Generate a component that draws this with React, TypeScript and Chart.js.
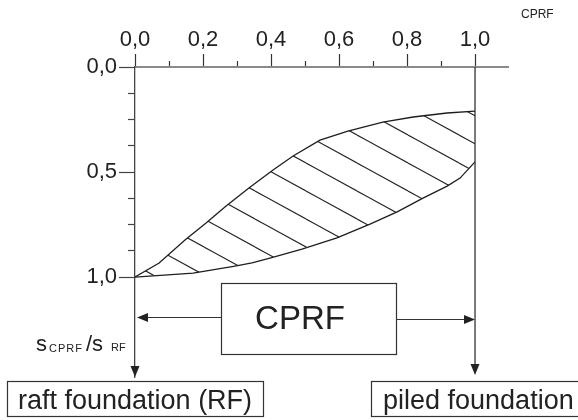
import { useEffect, useRef } from 'react';
import { Chart, registerables } from 'chart.js';

Chart.register(...registerables);

// Upper boundary of the CPRF band (s_CPRF/s_RF vs. alpha_CPRF)
const upperX = [0, 0.071, 0.147, 0.209, 0.268, 0.335, 0.406, 0.465, 0.544, 0.626, 0.729, 0.818, 0.918, 1.0];
const upperY = [1.0, 0.933, 0.824, 0.743, 0.662, 0.576, 0.49, 0.424, 0.348, 0.305, 0.262, 0.238, 0.219, 0.21];
// Lower boundary of the CPRF band
const lowerX = [0, 0.171, 0.294, 0.344, 0.397, 0.491, 0.594, 0.691, 0.771, 0.847, 0.918, 0.956, 1.0];
const lowerY = [1.0, 0.981, 0.948, 0.933, 0.91, 0.867, 0.814, 0.748, 0.69, 0.624, 0.567, 0.529, 0.452];

const xTickValues = [0, 0.1, 0.2, 0.3, 0.4, 0.5, 0.6, 0.7, 0.8, 0.9, 1.0];
const xLabelValues = [0, 0.2, 0.4, 0.6, 0.8, 1.0];
const xLabelTexts = ['0,0', '0,2', '0,4', '0,6', '0,8', '1,0'];
const yTickValues = [0, 0.125, 0.25, 0.375, 0.5, 0.625, 0.75, 0.875, 1.0];
const yLabelValues = [0, 0.5, 1.0];
const yLabelTexts = ['0,0', '0,5', '1,0'];

const FONT = '"Liberation Sans", Arial, Helvetica, sans-serif';

function labelOf(v: number, vals: number[], texts: string[]) {
  const i = vals.findIndex((a) => Math.abs(a - v) < 1e-6);
  return i >= 0 ? texts[i] : '';
}
function isMajor(v: number, vals: number[]) {
  return vals.some((a) => Math.abs(a - v) < 1e-6);
}

function makeHatch(): CanvasPattern | string {
  const W = 51;
  const H = 28;
  const c = document.createElement('canvas');
  c.width = W;
  c.height = H;
  const g = c.getContext('2d');
  if (!g) return 'rgba(0,0,0,0)';
  g.strokeStyle = '#222';
  g.lineWidth = 1.1;
  const phase = 23;
  for (let k = -2; k <= 2; k++) {
    g.beginPath();
    g.moveTo(0, phase + H * k);
    g.lineTo(W, phase + H + H * k);
    g.stroke();
  }
  const p = g.createPattern(c, 'repeat');
  return p || 'rgba(0,0,0,0)';
}

function arrowHead(ctx: CanvasRenderingContext2D, tx: number, ty: number, dir: 'left' | 'right' | 'down') {
  const L = 11;
  const Wd = 4.5;
  ctx.beginPath();
  if (dir === 'left') {
    ctx.moveTo(tx, ty);
    ctx.lineTo(tx + L, ty - Wd);
    ctx.lineTo(tx + L, ty + Wd);
  } else if (dir === 'right') {
    ctx.moveTo(tx, ty);
    ctx.lineTo(tx - L, ty - Wd);
    ctx.lineTo(tx - L, ty + Wd);
  } else {
    ctx.moveTo(tx, ty);
    ctx.lineTo(tx - Wd, ty - L);
    ctx.lineTo(tx + Wd, ty - L);
  }
  ctx.closePath();
  ctx.fill();
}

const decorPlugin = {
  id: 'decor',
  afterDraw(chart: any) {
    const ctx: CanvasRenderingContext2D = chart.ctx;
    const xs = chart.scales.x;
    const area = chart.chartArea;
    const x0 = xs.getPixelForValue(0);
    const x1 = xs.getPixelForValue(1);
    ctx.save();
    ctx.strokeStyle = '#333';
    ctx.fillStyle = '#222';
    ctx.lineWidth = 1.3;

    // right vertical line at alpha = 1
    ctx.beginPath();
    ctx.moveTo(x1, area.top);
    ctx.lineTo(x1, area.bottom - 8);
    ctx.stroke();
    arrowHead(ctx, x1, area.bottom - 2, 'down');
    // arrow head at end of the y axis
    arrowHead(ctx, x0, area.bottom, 'down');

    // CPRF box
    ctx.lineWidth = 1.2;
    ctx.strokeRect(221.5, 283.5, 175, 71);
    ctx.font = `33px ${FONT}`;
    ctx.textAlign = 'center';
    ctx.textBaseline = 'alphabetic';
    ctx.fillText('CPRF', 300, 329);

    // arrows out of the box
    ctx.beginPath();
    ctx.moveTo(221, 317.5);
    ctx.lineTo(x0 + 10, 317.5);
    ctx.stroke();
    arrowHead(ctx, x0 + 2, 317.5, 'left');
    ctx.beginPath();
    ctx.moveTo(396, 319.5);
    ctx.lineTo(x1 - 10, 319.5);
    ctx.stroke();
    arrowHead(ctx, x1, 319.5, 'right');

    // bottom boxes
    ctx.strokeRect(7.5, 381.5, 256, 35);
    ctx.strokeRect(371.5, 381.5, 260, 35);
    ctx.font = `27px ${FONT}`;
    ctx.textAlign = 'left';
    ctx.fillText('raft foundation (RF)', 18, 409);
    ctx.fillText('piled foundation', 383, 409);

    // y axis title s_CPRF / s_RF
    ctx.font = `22px ${FONT}`;
    ctx.fillText('s', 36, 351);
    ctx.fillText('/s', 86, 351);
    ctx.font = `11px ${FONT}`;
    (ctx as any).letterSpacing = '1px';
    ctx.fillText('CPRF', 49, 352);
    (ctx as any).letterSpacing = '0px';
    ctx.fillText('RF', 111, 351);

    // x axis title (alpha) CPRF
    ctx.font = `12px ${FONT}`;
    ctx.fillText('CPRF', 521, 18);
    ctx.restore();
  },
};

export default function App() {
  const ref = useRef<HTMLCanvasElement | null>(null);
  useEffect(() => {
    if (!ref.current) return;
    const hatch = makeHatch();
    const chart = new Chart(ref.current, {
      type: 'line',
      data: {
        datasets: [
          {
            data: upperX.map((x, i) => ({ x, y: upperY[i] })),
            borderColor: '#1e1e1e',
            borderWidth: 1.3,
            pointRadius: 0,
            tension: 0,
            fill: '+1',
            backgroundColor: hatch as any,
          },
          {
            data: lowerX.map((x, i) => ({ x, y: lowerY[i] })),
            borderColor: '#1e1e1e',
            borderWidth: 1.3,
            pointRadius: 0,
            tension: 0,
            fill: false,
          },
        ],
      },
      options: {
        animation: false,
        responsive: false,
        events: [],
        layout: { padding: { left: 0, top: 0, right: 70, bottom: 43 } },
        plugins: { legend: { display: false }, tooltip: { enabled: false } },
        scales: {
          x: {
            type: 'linear',
            position: 'top',
            min: 0,
            max: 1.097,
            afterBuildTicks: (s: any) => {
              s.ticks = xTickValues.map((v) => ({ value: v }));
            },
            afterFit: (s: any) => {
              s.height = 67;
            },
            ticks: {
              autoSkip: false,
              maxRotation: 0,
              padding: 1,
              color: '#222',
              font: { family: FONT, size: 22 },
              callback: (v: any) => labelOf(Number(v), xLabelValues, xLabelTexts),
            },
            grid: {
              drawOnChartArea: false,
              drawTicks: true,
              tickLength: 13,
              tickColor: '#333',
              tickWidth: 1.2,
              tickBorderDash: (c: any) => (isMajor(c.tick?.value, xLabelValues) ? [] : [6, 7]),
              tickBorderDashOffset: (c: any) => (isMajor(c.tick?.value, xLabelValues) ? 0 : 6),
            },
            border: { color: '#8a8a8a', width: 2 },
          },
          y: {
            type: 'linear',
            position: 'left',
            reverse: true,
            min: 0,
            max: 1.476,
            afterBuildTicks: (s: any) => {
              s.ticks = yTickValues.map((v) => ({ value: v }));
            },
            afterFit: (s: any) => {
              s.width = 135;
            },
            ticks: {
              autoSkip: false,
              padding: 2,
              color: '#222',
              font: { family: FONT, size: 22 },
              callback: (v: any) => labelOf(Number(v), yLabelValues, yLabelTexts),
            },
            grid: {
              drawOnChartArea: false,
              drawTicks: true,
              tickLength: 16,
              tickColor: '#444',
              tickWidth: 1.2,
              tickBorderDash: (c: any) => (isMajor(c.tick?.value, yLabelValues) ? [] : [7, 9]),
              tickBorderDashOffset: (c: any) => (isMajor(c.tick?.value, yLabelValues) ? 0 : 7),
            },
            border: { color: '#444', width: 1.3 },
          },
        },
      },
      plugins: [decorPlugin],
    });
    return () => chart.destroy();
  }, []);
  return (
    <div style={{ position: 'fixed', left: 0, top: 0, width: 578, height: 420, background: '#fff' }}>
      <canvas ref={ref} width={578} height={420} />
    </div>
  );
}
